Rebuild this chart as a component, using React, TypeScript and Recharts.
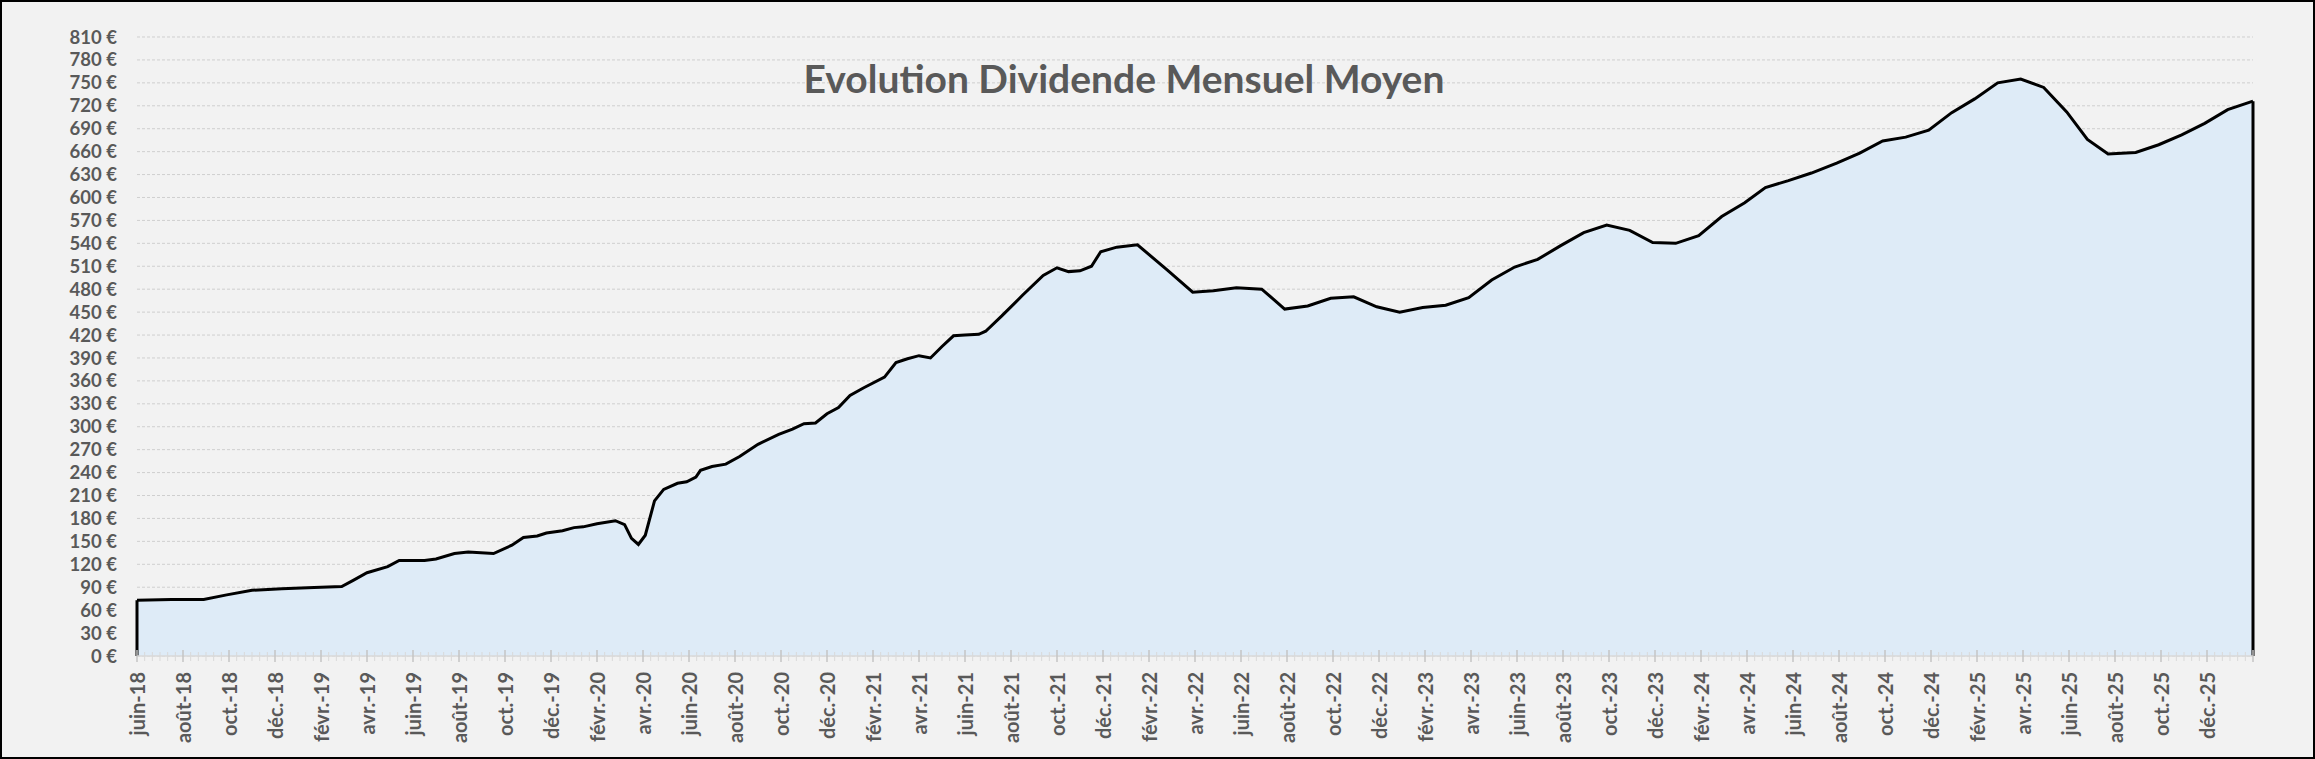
import React from "react";
import {
  AreaChart,
  Area,
  XAxis,
  YAxis,
  CartesianGrid,
  ReferenceLine,
} from "recharts";

// months elapsed since juin-18 (points are not evenly spaced in the first years)
const monthOffsets = [
  0, 1.5, 2.9, 3.9, 5.0, 6.3, 7.7, 8.9, 9.4, 10.0, 10.9, 11.4, 12.5, 13.0,
  13.8, 14.4, 15.5, 16.3, 16.8, 17.4, 17.8, 18.5, 19.0, 19.4, 20.0, 20.8,
  21.2, 21.5, 21.8, 22.1, 22.5, 22.9, 23.5, 23.9, 24.3, 24.5, 25.0, 25.6,
  26.2, 27.0, 27.9, 28.5, 29.0, 29.5, 30.0, 30.5, 31.0, 31.6, 32.5, 33.0,
  33.5, 34.0, 34.5, 35.0, 35.5, 36.0, 36.6, 36.9, 37.6, 38.5, 39.4, 40.0,
  40.5, 41.0, 41.5, 41.9, 42.6, 43.5, 44.8, 45.9, 46.8, 47.8, 48.9, 49.9,
  50.9, 51.9, 52.9, 53.9, 54.9, 55.9, 56.9, 57.9, 58.9, 59.9, 60.9, 61.9,
  62.9, 63.9, 64.9, 65.9, 66.9, 67.9, 68.9, 69.9, 70.8, 71.8, 72.8, 73.9,
  74.9, 75.9, 76.9, 77.9, 78.9, 79.9, 80.9, 81.9, 82.9, 83.9, 84.8, 85.7,
  86.9, 87.9, 88.9, 89.9, 90.9, 92.0,
];

// dividende mensuel moyen (€)
const dividend = [
  73, 74, 74, 80, 86, 88, 89.5, 91, 99, 109, 117, 125, 125, 127,
  134, 136, 134, 145, 155, 157, 161, 164, 168, 169, 173, 177,
  172, 154, 146, 158, 203, 218, 226, 228, 234, 243, 248, 251,
  261, 277, 290, 297, 304, 305, 317, 325, 341, 351, 365, 384,
  389, 393, 390, 405, 419, 420, 421, 425, 445, 472, 498, 508,
  503, 504, 510, 529, 535, 538, 505, 476, 478, 482, 480, 454,
  458, 468, 470, 457, 450, 456, 459, 469, 492, 509, 519, 537,
  554, 564, 557, 541, 540, 550, 575, 593, 613, 622, 632, 645,
  658, 674, 679, 688, 711, 729, 750, 755, 744, 712, 676, 657,
  659, 669, 682, 697, 715, 726,
];

const monthLabels = [
  "juin-18", "août-18", "oct.-18", "déc.-18", "févr.-19", "avr.-19",
  "juin-19", "août-19", "oct.-19", "déc.-19", "févr.-20", "avr.-20",
  "juin-20", "août-20", "oct.-20", "déc.-20", "févr.-21", "avr.-21",
  "juin-21", "août-21", "oct.-21", "déc.-21", "févr.-22", "avr.-22",
  "juin-22", "août-22", "oct.-22", "déc.-22", "févr.-23", "avr.-23",
  "juin-23", "août-23", "oct.-23", "déc.-23", "févr.-24", "avr.-24",
  "juin-24", "août-24", "oct.-24", "déc.-24", "févr.-25", "avr.-25",
  "juin-25", "août-25", "oct.-25", "déc.-25",
];

const yTicks = [
  0, 30, 60, 90, 120, 150, 180, 210, 240, 270, 300, 330, 360, 390, 420, 450,
  480, 510, 540, 570, 600, 630, 660, 690, 720, 750, 780, 810,
];

const TITLE = "Evolution Dividende Mensuel Moyen";

const W = 2315;
const H = 759;
const FONT = "Lato, 'Open Sans', sans-serif";
const TEXT = "#595959";
const AXIS = "#d9d9d9";

const data = monthOffsets.map((m, i) => ({ m, v: dividend[i] }));
const lastMonth = monthOffsets[monthOffsets.length - 1];
// minor tick every third of a month, a labelled major tick every 2 months
const STEPS_PER_LABEL = 6;
const xTicks: number[] = [];
for (let i = 0; i / 3 <= lastMonth; i++) xTicks.push(i / 3);

const MonthTick = (props: any) => {
  const { x, y, index } = props;
  const major = index % STEPS_PER_LABEL === 0;
  const label = major ? monthLabels[index / STEPS_PER_LABEL] : null;
  return (
    <g>
      <line
        x1={x}
        x2={x}
        y1={y - (major ? 6 : 4)}
        y2={y + (major ? 6 : 5)}
        stroke={major ? "#c4c4c4" : AXIS}
        strokeWidth={major ? 1.5 : 1}
      />
      {label && (
        <text
          x={x}
          y={y + 16}
          transform={`rotate(-90 ${x} ${y + 16})`}
          textAnchor="end"
          dominantBaseline="central"
          fontFamily={FONT}
          fontWeight={700}
          fontSize={20}
          fill={TEXT}
        >
          {label}
        </text>
      )}
    </g>
  );
};

export default function App() {
  return (
    <div
      style={{
        position: "absolute",
        left: 0,
        top: 0,
        width: W,
        height: H,
        background: "#f2f2f2",
      }}
    >
      <AreaChart
        width={W}
        height={H}
        data={data}
        margin={{ top: 37, right: 62, bottom: 23, left: 77 }}
      >
        <CartesianGrid
          horizontal
          vertical={false}
          stroke="#cfcfcf"
          strokeDasharray="3 2"
        />
        <XAxis
          type="number"
          dataKey="m"
          domain={[0, lastMonth]}
          ticks={xTicks}
          interval={0}
          axisLine={{ stroke: AXIS, strokeWidth: 1.5 }}
          tickLine={false}
          tickSize={0}
          tickMargin={0}
          tick={<MonthTick />}
          height={80}
        />
        <YAxis
          type="number"
          domain={[0, 810]}
          ticks={yTicks}
          interval={0}
          axisLine={false}
          tickLine={false}
          tickSize={0}
          tickMargin={20}
          width={60}
          tickFormatter={(v) => `${v} €`}
          tick={{ fontFamily: FONT, fontWeight: 700, fontSize: 18.5, fill: TEXT }}
        />
        <Area
          type="linear"
          dataKey="v"
          stroke="#000"
          strokeWidth={3}
          fill="#deebf7"
          fillOpacity={1}
          dot={false}
          activeDot={false}
          isAnimationActive={false}
        />
        <ReferenceLine
          segment={[
            { x: monthOffsets[0], y: 0 },
            { x: monthOffsets[0], y: dividend[0] },
          ]}
          stroke="#000"
          strokeWidth={3}
        />
        <ReferenceLine
          segment={[
            { x: lastMonth, y: 0 },
            { x: lastMonth, y: dividend[dividend.length - 1] },
          ]}
          stroke="#000"
          strokeWidth={3}
        />
      </AreaChart>
      <svg
        width={W}
        height={H}
        style={{ position: "absolute", left: 0, top: 0, pointerEvents: "none" }}
      >
        <text
          x={1124}
          y={93}
          textAnchor="middle"
          fontFamily={FONT}
          fontWeight={700}
          fontSize={39}
          fill={TEXT}
        >
          {TITLE}
        </text>
        <rect x={1} y={1} width={W - 2} height={H - 2} fill="none" stroke="#000" strokeWidth={2} />
      </svg>
    </div>
  );
}
